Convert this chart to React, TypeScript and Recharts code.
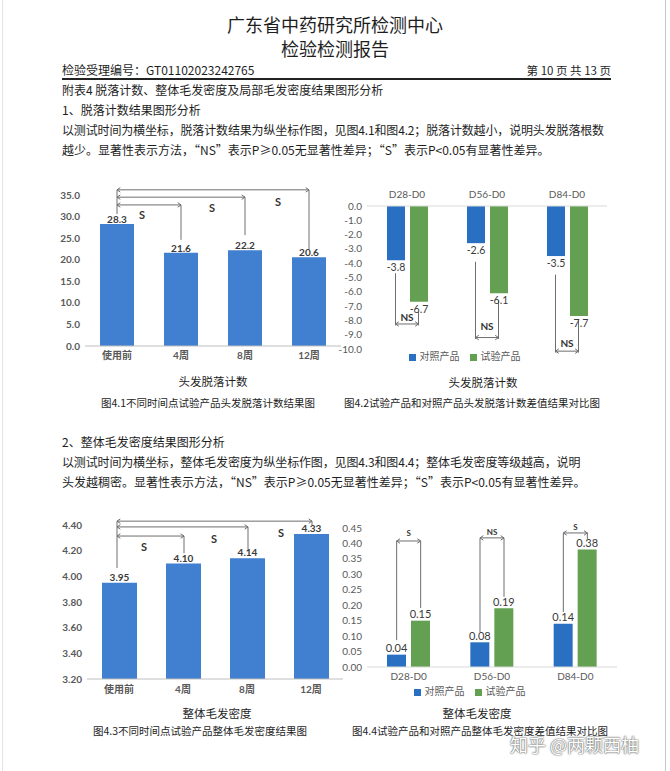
import React from 'react'
import { BarChart, Bar, XAxis, YAxis, LabelList, Legend, ReferenceLine } from 'recharts'

// ---- data ----
const timePoints = ['使用前', '4周', '8周', '12周']
const lossCounts = [28.3, 21.6, 22.2, 20.6]
const densityGrades = [3.95, 4.1, 4.14, 4.33]

const diffGroups = ['D28-D0', 'D56-D0', 'D84-D0']
const seriesNames = ['对照产品', '试验产品']
const lossDiffControl = [-3.8, -2.6, -3.5]
const lossDiffTest = [-6.7, -6.1, -7.7]
const densityDiffControl = [0.04, 0.08, 0.14]
const densityDiffTest = [0.15, 0.19, 0.38]

const lossTicks = [0, 5, 10, 15, 20, 25, 30, 35]
const densityTicks = [3.2, 3.4, 3.6, 3.8, 4.0, 4.2, 4.4]
const lossDiffTicks = [0, -1, -2, -3, -4, -5, -6, -7, -8, -9, -10]
const densityDiffTicks = [0, 0.05, 0.1, 0.15, 0.2, 0.25, 0.3, 0.35, 0.4, 0.45]

// significance brackets (data units): baseline vs each time point
const lossBase = [36.2, 30.6]
const lossBrackets = [
  { to: '4周', top: 32.7, end: 24.6, label: 'S', from: '使用前', dx: 25, labelY: 30.4 },
  { to: '8周', top: 34.5, end: 25.7, label: 'S', from: '4周', dx: 31, labelY: 32.0 },
  { to: '12周', top: 36.2, end: 22.4, label: 'S', from: '8周', dx: 33, labelY: 33.4 },
]
const densityBase = [4.43, 4.065]
const densityBrackets = [
  { to: '4周', top: 4.314, end: 4.18, label: 'S', from: '使用前', dx: 25, labelY: 4.229 },
  { to: '8周', top: 4.385, end: 4.21, label: 'S', from: '4周', dx: 31, labelY: 4.291 },
  { to: '12周', top: 4.43, end: 4.4, label: 'S', from: '8周', dx: 34, labelY: 4.338 },
]
// control vs test inside each interval
const lossDiffBrackets = [
  { group: 'D28-D0', left: -4.7, right: -7.4, level: -8.25, label: 'NS', labelY: -7.75 },
  { group: 'D56-D0', left: -3.9, right: -6.6, level: -9.2, label: 'NS', labelY: -8.4 },
  { group: 'D84-D0', left: -4.8, right: -8.0, level: -10.15, label: 'NS', labelY: -9.55 },
]
const densityDiffBrackets = [
  { group: 'D28-D0', left: 0.087, right: 0.191, level: 0.408, label: 'S', labelY: 0.434 },
  { group: 'D56-D0', left: 0.113, right: 0.227, level: 0.418, label: 'NS', labelY: 0.437 },
  { group: 'D84-D0', left: 0.178, right: 0.414, level: 0.434, label: 'S', labelY: 0.452 },
]

const lossData = timePoints.map((t, i) => ({ t, v: lossCounts[i] }))
const densityData = timePoints.map((t, i) => ({ t, v: densityGrades[i] }))
const lossDiffData = diffGroups.map((g, i) => ({ g, c: lossDiffControl[i], x: lossDiffTest[i] }))
const densityDiffData = diffGroups.map((g, i) => ({ g, c: densityDiffControl[i], x: densityDiffTest[i] }))

const PAGE_FONT = "'Noto Sans CJK SC', 'Noto Sans', sans-serif"
const CHART_FONT = "Lato, 'Noto Sans CJK SC', sans-serif"
const BLUE_A = '#4180d0'
const BLUE_B = '#2a70c2'
const GREEN = '#63a052'
const INK = '#6e6e6e'

// line between two reference points, optional arrow heads, optional x shift (for grouped bars)
function seg(dx1: number, dx2: number, arrows: boolean) {
  return (p: any) => {
    const x1 = p.x1 + dx1
    const x2 = p.x2 + dx2
    const y1 = p.y1
    const y2 = p.y2
    let d = ''
    if (arrows) {
      const a = Math.atan2(y2 - y1, x2 - x1)
      const head = (x: number, y: number, t: number) =>
        `M${x - 4 * Math.cos(t - 0.6)},${y - 4 * Math.sin(t - 0.6)}L${x},${y}L${x - 4 * Math.cos(t + 0.6)},${y - 4 * Math.sin(t + 0.6)}`
      d = head(x2, y2, a) + head(x1, y1, a + Math.PI)
    }
    return (
      <g>
        <line x1={x1} y1={y1} x2={x2} y2={y2} stroke={INK} strokeWidth={1} />
        {arrows && <path d={d} fill="none" stroke={INK} strokeWidth={1} />}
      </g>
    )
  }
}

function mark(text: string, dx: number, size: number) {
  return (p: any) => (
    <text x={p.x1 + dx} y={p.y1} textAnchor="middle" dominantBaseline="central"
      fontSize={size} fontWeight={700} fill="#333" fontFamily={CHART_FONT}>{text}</text>
  )
}

function endLabel(digits: number, gap: number, size: number, bold: boolean) {
  return (p: any) => {
    const vb = p.viewBox && p.viewBox.width !== undefined ? p.viewBox : p
    const { x, y, width, height } = vb
    const value = Number(p.value)
    const top = Math.min(y, y + height)
    const bottom = Math.max(y, y + height)
    const ty = value < 0 ? bottom + gap : top - gap
    return (
      <text x={x + width / 2} y={ty} textAnchor="middle" dominantBaseline="central"
        fontSize={size} fontWeight={bold ? 700 : 400} fill="#3a3a3a" fontFamily={CHART_FONT}>
        {value.toFixed(digits)}
      </text>
    )
  }
}

function Txt({ x, y, size = 12, anchor = 'left', children, style }: any) {
  const tx = anchor === 'center' ? 'translateX(-50%)' : anchor === 'right' ? 'translateX(-100%)' : undefined
  return (
    <div style={{ position: 'absolute', left: x, top: y - size * 0.7, fontSize: size, lineHeight: `${size * 1.4}px`,
      whiteSpace: 'nowrap', transform: tx, ...style }}>{children}</div>
  )
}

const boldTick = { fontSize: 10, fill: '#595959', fontWeight: 700, fontFamily: CHART_FONT }
const plainTick = { fontSize: 10, fill: '#595959', fontFamily: CHART_FONT }

function legendText(v: string) {
  return <span style={{ color: '#595959', fontFamily: PAGE_FONT }}>{v}</span>
}

function LossChart() {
  return (
    <BarChart width={310} height={190} data={lossData} margin={{ top: 15, right: 9, left: 5, bottom: 4 }}>
      <XAxis dataKey="t" tickLine={false} axisLine={{ stroke: '#bfbfbf' }} tick={boldTick} tickSize={4} tickMargin={2} height={20} />
      <YAxis domain={[0, 35]} ticks={lossTicks} interval={0} tickFormatter={(v: number) => v.toFixed(1)} axisLine={false}
        tickLine={false} tick={boldTick} tickSize={3} tickMargin={2} width={40} />
      <Bar dataKey="v" fill={BLUE_A} barSize={34} isAnimationActive={false}>
        <LabelList dataKey="v" content={endLabel(1, 5, 10, true)} />
      </Bar>
      <ReferenceLine ifOverflow="visible" segment={[{ x: timePoints[0], y: lossBase[0] }, { x: timePoints[0], y: lossBase[1] }]} shape={seg(0, 0, false)} />
      {lossBrackets.map((b) => [
        <ReferenceLine key={b.to + 'h'} ifOverflow="visible" segment={[{ x: timePoints[0], y: b.top }, { x: b.to, y: b.top }]} shape={seg(0, 0, true)} />,
        <ReferenceLine key={b.to + 'v'} ifOverflow="visible" segment={[{ x: b.to, y: b.top }, { x: b.to, y: b.end }]} shape={seg(0, 0, false)} />,
        <ReferenceLine key={b.to + 's'} ifOverflow="visible" segment={[{ x: b.from, y: b.labelY }, { x: b.from, y: b.labelY }]} shape={mark(b.label, b.dx, 11)} />,
      ])}
    </BarChart>
  )
}

function DensityChart() {
  return (
    <BarChart width={312} height={190} data={densityData} margin={{ top: 15, right: 9, left: 7, bottom: 1 }}>
      <XAxis dataKey="t" tickLine={false} axisLine={{ stroke: '#bfbfbf' }} tick={boldTick} tickSize={5} tickMargin={2} height={20} />
      <YAxis domain={[3.2, 4.4]} ticks={densityTicks} interval={0} tickFormatter={(v: number) => v.toFixed(2)} axisLine={false}
        tickLine={false} tick={boldTick} tickSize={3} tickMargin={2} width={40} />
      <Bar dataKey="v" fill={BLUE_A} barSize={35} isAnimationActive={false}>
        <LabelList dataKey="v" content={endLabel(2, 6, 10, true)} />
      </Bar>
      <ReferenceLine ifOverflow="visible" segment={[{ x: timePoints[0], y: densityBase[0] }, { x: timePoints[0], y: densityBase[1] }]} shape={seg(-2, -2, false)} />
      {densityBrackets.map((b) => [
        <ReferenceLine key={b.to + 'h'} ifOverflow="visible" segment={[{ x: timePoints[0], y: b.top }, { x: b.to, y: b.top }]} shape={seg(-2, 1, true)} />,
        <ReferenceLine key={b.to + 'v'} ifOverflow="visible" segment={[{ x: b.to, y: b.top }, { x: b.to, y: b.end }]} shape={seg(1, 1, false)} />,
        <ReferenceLine key={b.to + 's'} ifOverflow="visible" segment={[{ x: b.from, y: b.labelY }, { x: b.from, y: b.labelY }]} shape={mark(b.label, b.dx, 11)} />,
      ])}
    </BarChart>
  )
}

function LossDiffChart() {
  const h = (18 + 5) / 2
  return (
    <BarChart width={290} height={188} data={lossDiffData} margin={{ top: 6, right: 13, left: 2, bottom: 5 }} barGap={5}>
      <XAxis dataKey="g" orientation="top" tickLine={false} axisLine={{ stroke: '#d9d9d9' }} tick={plainTick} height={20} />
      <YAxis domain={[-10, 0]} ticks={lossDiffTicks} interval={0} tickFormatter={(v: number) => v.toFixed(1)} axisLine={false}
        tickLine={false} tick={plainTick} tickSize={3} tickMargin={2} width={35} />
      <Legend verticalAlign="bottom" height={14} iconType="square" iconSize={7} formatter={legendText}
        wrapperStyle={{ fontSize: 10, lineHeight: '14px' }} />
      <Bar dataKey="c" name={seriesNames[0]} fill={BLUE_B} barSize={18} isAnimationActive={false}>
        <LabelList dataKey="c" content={endLabel(1, 7, 10.5, false)} />
      </Bar>
      <Bar dataKey="x" name={seriesNames[1]} fill={GREEN} barSize={18} isAnimationActive={false}>
        <LabelList dataKey="x" content={endLabel(1, 7, 10.5, false)} />
      </Bar>
      {lossDiffBrackets.map((b) => [
        <ReferenceLine key={b.group + 'l'} ifOverflow="visible" segment={[{ x: b.group, y: b.left }, { x: b.group, y: b.level - 0.1 }]} shape={seg(-h, -h, false)} />,
        <ReferenceLine key={b.group + 'r'} ifOverflow="visible" segment={[{ x: b.group, y: b.right }, { x: b.group, y: b.level - 0.1 }]} shape={seg(h, h, false)} />,
        <ReferenceLine key={b.group + 'h'} ifOverflow="visible" segment={[{ x: b.group, y: b.level }, { x: b.group, y: b.level }]} shape={seg(-h, h, true)} />,
        <ReferenceLine key={b.group + 's'} ifOverflow="visible" segment={[{ x: b.group, y: b.labelY }, { x: b.group, y: b.labelY }]} shape={mark(b.label, 0, 10)} />,
      ])}
    </BarChart>
  )
}

function DensityDiffChart() {
  const h = (19 + 5) / 2
  return (
    <BarChart width={300} height={184} data={densityDiffData} margin={{ top: 13, right: 13, left: 2, bottom: 2 }} barGap={5}>
      <XAxis dataKey="g" tickLine={false} axisLine={{ stroke: '#d9d9d9' }} tick={plainTick} tickSize={4} tickMargin={2} height={18} />
      <YAxis domain={[0, 0.45]} ticks={densityDiffTicks} interval={0} tickFormatter={(v: number) => v.toFixed(2)} axisLine={false}
        tickLine={false} tick={plainTick} tickSize={3} tickMargin={2} width={35} />
      <Legend verticalAlign="bottom" height={12} iconType="square" iconSize={7} formatter={legendText}
        wrapperStyle={{ fontSize: 10, lineHeight: '12px' }} />
      <Bar dataKey="c" name={seriesNames[0]} fill={BLUE_B} barSize={19} isAnimationActive={false}>
        <LabelList dataKey="c" content={endLabel(2, 7, 11, false)} />
      </Bar>
      <Bar dataKey="x" name={seriesNames[1]} fill={GREEN} barSize={19} isAnimationActive={false}>
        <LabelList dataKey="x" content={endLabel(2, 7, 11, false)} />
      </Bar>
      {densityDiffBrackets.map((b) => [
        <ReferenceLine key={b.group + 'l'} ifOverflow="visible" segment={[{ x: b.group, y: b.level }, { x: b.group, y: b.left }]} shape={seg(-h, -h, false)} />,
        <ReferenceLine key={b.group + 'r'} ifOverflow="visible" segment={[{ x: b.group, y: b.level }, { x: b.group, y: b.right }]} shape={seg(h, h, false)} />,
        <ReferenceLine key={b.group + 'h'} ifOverflow="visible" segment={[{ x: b.group, y: b.level }, { x: b.group, y: b.level }]} shape={seg(-h, h, true)} />,
        <ReferenceLine key={b.group + 's'} ifOverflow="visible" segment={[{ x: b.group, y: b.labelY }, { x: b.group, y: b.labelY }]} shape={mark(b.label, 0, 8)} />,
      ])}
    </BarChart>
  )
}

export default function App() {
  return (
    <div style={{ position: 'absolute', left: 0, top: 0, width: 670, height: 771, background: '#fff', overflow: 'hidden',
      fontFamily: PAGE_FONT, color: '#1e1e1e' }}>
      <div style={{ position: 'absolute', left: 2, top: 0, width: 662, height: 771, borderLeft: '1px solid #e4e4e4', borderRight: '1px solid #c8c8c8' }} />

      <Txt x={335} y={25} size={18} anchor="center">广东省中药研究所检测中心</Txt>
      <Txt x={335} y={49} size={18} anchor="center">检验检测报告</Txt>
      <Txt x={62} y={70} size={12}>检验受理编号：GT01102023242765</Txt>
      <Txt x={611} y={70} size={11.5} anchor="right">第 10 页 共 13 页</Txt>
      <div style={{ position: 'absolute', left: 62, top: 78, width: 549, height: 2, background: '#222' }} />
      <Txt x={62} y={90} size={12}>附表4 脱落计数、整体毛发密度及局部毛发密度结果图形分析</Txt>
      <Txt x={62} y={110} size={12}>1、脱落计数结果图形分析</Txt>
      <Txt x={62} y={130} size={12} style={{ letterSpacing: -0.15 }}>以测试时间为横坐标，脱落计数结果为纵坐标作图，见图4.1和图4.2；脱落计数越小，说明头发脱落根数</Txt>
      <Txt x={62} y={150} size={12}>越少。显著性表示方法，“NS”表示P≥0.05无显著性差异；“S”表示P&lt;0.05有显著性差异。</Txt>

      <div style={{ position: 'absolute', left: 40, top: 180 }}><LossChart /></div>
      <div style={{ position: 'absolute', left: 330, top: 180 }}><LossDiffChart /></div>
      <Txt x={213} y={381} size={11.5} anchor="center">头发脱落计数</Txt>
      <Txt x={483} y={382} size={11.5} anchor="center">头发脱落计数</Txt>
      <Txt x={208} y={403} size={10.5} anchor="center">图4.1不同时间点试验产品头发脱落计数结果图</Txt>
      <Txt x={472} y={403} size={10.5} anchor="center">图4.2试验产品和对照产品头发脱落计数差值结果对比图</Txt>

      <Txt x={62} y={442} size={12}>2、整体毛发密度结果图形分析</Txt>
      <Txt x={62} y={462} size={12} style={{ letterSpacing: -0.15 }}>以测试时间为横坐标，整体毛发密度为纵坐标作图，见图4.3和图4.4；整体毛发密度等级越高，说明</Txt>
      <Txt x={62} y={482} size={12}>头发越稠密。显著性表示方法，“NS”表示P≥0.05无显著性差异；“S”表示P&lt;0.05有显著性差异。</Txt>

      <div style={{ position: 'absolute', left: 40, top: 510 }}><DensityChart /></div>
      <div style={{ position: 'absolute', left: 330, top: 515 }}><DensityDiffChart /></div>
      <Txt x={217} y={713} size={11.5} anchor="center">整体毛发密度</Txt>
      <Txt x={477} y={713} size={11.5} anchor="center">整体毛发密度</Txt>
      <Txt x={200} y={731} size={10.5} anchor="center">图4.3不同时间点试验产品整体毛发密度结果图</Txt>
      <Txt x={480} y={731} size={10.5} anchor="center">图4.4试验产品和对照产品整体毛发密度差值结果对比图</Txt>

      <Txt x={510} y={745} size={18} style={{ color: '#fff', textShadow: '0 0 2px #555, 0 0 1px #555' }}>知乎 @两颗西柚</Txt>
    </div>
  )
}
